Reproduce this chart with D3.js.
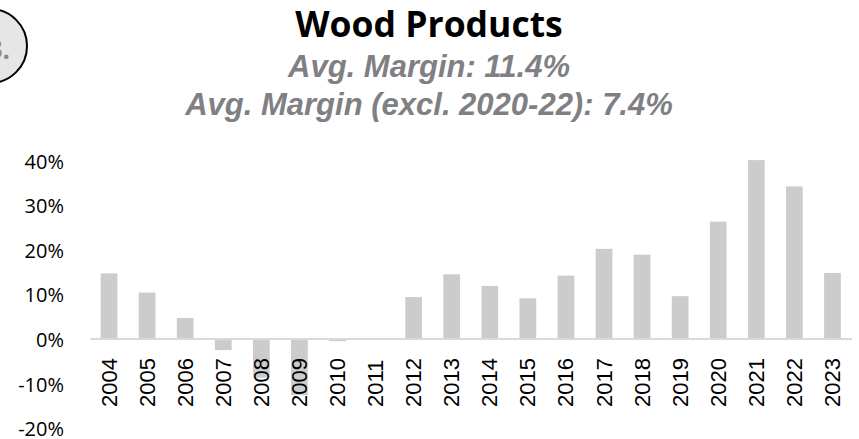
<!DOCTYPE html>
<html>
<head>
<meta charset="utf-8">
<script src="https://cdn.jsdelivr.net/npm/d3@7/dist/d3.min.js"></script>
<style>
  html, body { margin: 0; padding: 0; background: #fff; }
  svg { display: block; }
</style>
</head>
<body>
<svg id="chart" width="859" height="439"></svg>
<script>
// Operating margin by year, in percent
const years = ["2004","2005","2006","2007","2008","2009","2010","2011","2012","2013",
               "2014","2015","2016","2017","2018","2019","2020","2021","2022","2023"];
const margins = [14.6, 10.3, 4.6, -2.6, -8.8, -12.7, -0.6, 0.0, 9.3, 14.4,
                 11.8, 9.0, 14.1, 20.1, 18.8, 9.5, 26.2, 40.0, 34.1, 14.7];
const yTicks = [40, 30, 20, 10, 0, -10, -20];

const titleText = "Wood Products";
const subtitleLines = ["Avg. Margin: 11.4%", "Avg. Margin (excl. 2020-22): 7.4%"];
const badgeText = "3.";

const svg = d3.select("#chart");

const x = d3.scaleBand().domain(years).range([90, 851.5]).paddingInner(0.56).paddingOuter(0.28);
const y = d3.scaleLinear().domain([-20, 40]).range([427.7, 160.1]);

// corner badge
svg.append("circle")
  .attr("cx", -10).attr("cy", 46).attr("r", 37)
  .attr("fill", "#e6e6e6").attr("stroke", "#000").attr("stroke-width", 2);
svg.append("text")
  .attr("x", 10).attr("y", 59)
  .attr("text-anchor", "end")
  .attr("font-family", "Open Sans, sans-serif").attr("font-weight", 700)
  .attr("font-size", 26).attr("fill", "#8c8c8c")
  .text(badgeText);

// titles
svg.append("text")
  .attr("x", 429).attr("y", 37)
  .attr("text-anchor", "middle")
  .attr("font-family", "Open Sans, sans-serif").attr("font-weight", 700)
  .attr("font-size", 35.5).attr("fill", "#000")
  .text(titleText);

svg.selectAll("text.sub")
  .data(subtitleLines)
  .join("text")
  .attr("class", "sub")
  .attr("x", 429)
  .attr("y", (d, i) => 76.5 + i * 38)
  .attr("text-anchor", "middle")
  .attr("font-family", "Liberation Sans, Arial, sans-serif")
  .attr("font-weight", 700).attr("font-style", "italic")
  .attr("font-size", 31).attr("fill", "#808084")
  .text(d => d);

// y axis labels (no axis line)
const yAxis = d3.axisLeft(y).tickValues(yTicks).tickSize(0).tickPadding(0)
  .tickFormat(d => d + "%");
const yg = svg.append("g").attr("transform", "translate(64,1.5)").call(yAxis);
yg.select(".domain").remove();
yg.selectAll("text")
  .attr("font-family", "Open Sans, sans-serif")
  .attr("font-size", 20).attr("fill", "#000");

// bars
svg.append("g")
  .selectAll("rect")
  .data(years.map((yr, i) => ({ yr, v: margins[i] })))
  .join("rect")
  .attr("x", d => x(d.yr))
  .attr("width", x.bandwidth())
  .attr("y", d => y(Math.max(0, d.v)))
  .attr("height", d => Math.abs(y(d.v) - y(0)))
  .attr("fill", "#cccccc");

// zero baseline and year labels
const xAxis = d3.axisBottom(x).tickSize(0).tickPadding(0);
const xg = svg.append("g").attr("transform", `translate(0,${y(0)})`).call(xAxis);
xg.select(".domain").attr("stroke", "#d9d9d9").attr("stroke-width", 2);
xg.selectAll(".tick text")
  .attr("font-family", "Liberation Sans, Arial, sans-serif")
  .attr("font-size", 22).attr("fill", "#000")
  .attr("text-anchor", "start")
  .attr("dy", null)
  .attr("dominant-baseline", "central")
  .attr("transform", "translate(0,68.5) rotate(-90)")
  .attr("y", 0).attr("x", 0);
</script>
</body>
</html>
